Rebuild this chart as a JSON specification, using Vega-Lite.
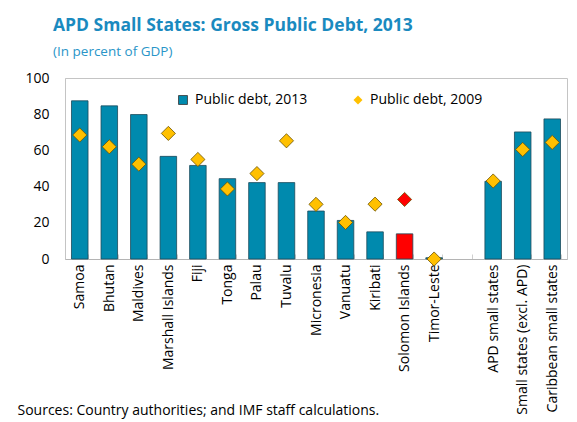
{
  "$schema": "https://vega.github.io/schema/vega-lite/v6.json",
  "autosize": "none",
  "width": 502,
  "height": 181,
  "padding": {"left": 65, "top": 78, "right": 10, "bottom": 163},
  "background": "white",
  "view": {"stroke": "#c4c4c4", "strokeWidth": 1, "fill": "white"},
  "title": {
    "text": "APD Small States: Gross Public Debt, 2013",
    "subtitle": "(In percent of GDP)",
    "anchor": "start",
    "frame": "group",
    "dx": -12,
    "offset": 13,
    "font": "Open Sans",
    "fontSize": 17.5,
    "fontWeight": "bold",
    "color": "#1a8abf",
    "subtitleFont": "Open Sans",
    "subtitleFontSize": 13.5,
    "subtitleColor": "#2a95c8",
    "subtitlePadding": 10
  },
  "config": {
    "font": "Open Sans",
    "view": {"stroke": "#c4c4c4", "strokeWidth": 1},
    "axis": {"labelFont": "Open Sans", "labelFontSize": 14, "labelColor": "#000", "grid": false},
    "axisY": {"ticks": false, "labelOverlap": false, "labelFlush": false, "labelPadding": 16, "domainColor": "#c4c4c4", "tickCount": 5, "title": null},
    "axisX": {"domainColor": "#b4b4b4", "tickColor": "#cfcfcf"}
  },
  "data": {
    "values": [
      {"country": "Samoa", "debt2013": 87.4, "debt2009": 68.5},
      {"country": "Bhutan", "debt2013": 84.6, "debt2009": 62.0},
      {"country": "Maldives", "debt2013": 79.8, "debt2009": 52.4},
      {"country": "Marshall Islands", "debt2013": 56.7, "debt2009": 69.4},
      {"country": "Fiji", "debt2013": 51.7, "debt2009": 55.0},
      {"country": "Tonga", "debt2013": 44.4, "debt2009": 38.7},
      {"country": "Palau", "debt2013": 42.2, "debt2009": 47.2},
      {"country": "Tuvalu", "debt2013": 42.2, "debt2009": 65.3},
      {"country": "Micronesia", "debt2013": 26.5, "debt2009": 30.2},
      {"country": "Vanuatu", "debt2013": 21.3, "debt2009": 20.2},
      {"country": "Kiribati", "debt2013": 15.0, "debt2009": 30.3},
      {"country": "Solomon Islands", "debt2013": 13.9, "debt2009": 32.9},
      {"country": "Timor-Leste", "debt2013": 0.7, "debt2009": 0.0},
      {"country": " ", "debt2013": null, "debt2009": null},
      {"country": "APD small states", "debt2013": 42.9, "debt2009": 43.1},
      {"country": "Small states (excl. APD)", "debt2013": 70.2, "debt2009": 60.5},
      {"country": "Caribbean small states", "debt2013": 77.4, "debt2009": 64.4}
    ]
  },
  "encoding": {
    "x": {
      "field": "country",
      "type": "nominal",
      "sort": null,
      "scale": {
        "domain": ["Samoa", "Bhutan", "Maldives", "Marshall Islands", "Fiji", "Tonga", "Palau", "Tuvalu", "Micronesia", "Vanuatu", "Kiribati", "Solomon Islands", "Timor-Leste", " ", "APD small states", "Small states (excl. APD)", "Caribbean small states"],
        "paddingInner": 0.44,
        "paddingOuter": 0.22
      },
      "axis": {
        "title": "Sources: Country authorities; and IMF staff calculations.",
        "titleFont": "Open Sans",
        "titleFontSize": 14,
        "titleFontWeight": "normal",
        "titleColor": "#000",
        "titleAnchor": "start",
        "titleAlign": "left",
        "titleBaseline": "alphabetic",
        "titleX": -48,
        "titleY": 155,
        "labelAngle": -90,
        "labelPadding": 10,
        "ticks": true,
        "tickBand": "extent",
        "tickSize": -5,
        "domainWidth": 1
      }
    }
  },
  "layer": [
    {
      "mark": {"type": "bar", "stroke": "#1d4a5a", "strokeWidth": 0.8},
      "encoding": {
        "y": {
          "field": "debt2013",
          "type": "quantitative",
          "scale": {"domain": [0, 100]}
        },
        "color": {
          "condition": {"test": "datum.country === 'Solomon Islands'", "value": "#ff0000"},
          "datum": "Public debt, 2013",
          "type": "nominal",
          "scale": {"domain": ["Public debt, 2013"], "range": ["#008aae"]},
          "legend": {
            "title": null,
            "orient": "none",
            "legendX": 111,
            "legendY": 15,
            "labelFont": "Open Sans",
            "labelFontSize": 14,
            "labelColor": "#000",
            "symbolType": "square",
            "symbolSize": 80,
            "symbolStrokeColor": "#333",
            "symbolStrokeWidth": 0.8,
            "labelOffset": 5
          }
        }
      }
    },
    {
      "mark": {"type": "point", "filled": true, "size": 200, "stroke": "#6b5200", "strokeWidth": 0.8, "opacity": 1},
      "encoding": {
        "y": {"field": "debt2009", "type": "quantitative"},
        "shape": {
          "datum": "Public debt, 2009",
          "type": "nominal",
          "scale": {"domain": ["Public debt, 2009"], "range": ["diamond"]},
          "legend": {
            "title": null,
            "orient": "none",
            "legendX": 286,
            "legendY": 15,
            "labelFont": "Open Sans",
            "labelFontSize": 14,
            "labelColor": "#000",
            "symbolSize": 80,
            "symbolFillColor": "#ffc000",
            "symbolStrokeColor": "#6b5200",
            "symbolStrokeWidth": 0.8,
            "labelOffset": 5
          }
        },
        "color": {
          "condition": {"test": "datum.country === 'Solomon Islands'", "value": "#ff0000"},
          "value": "#ffc000"
        }
      }
    }
  ]
}
